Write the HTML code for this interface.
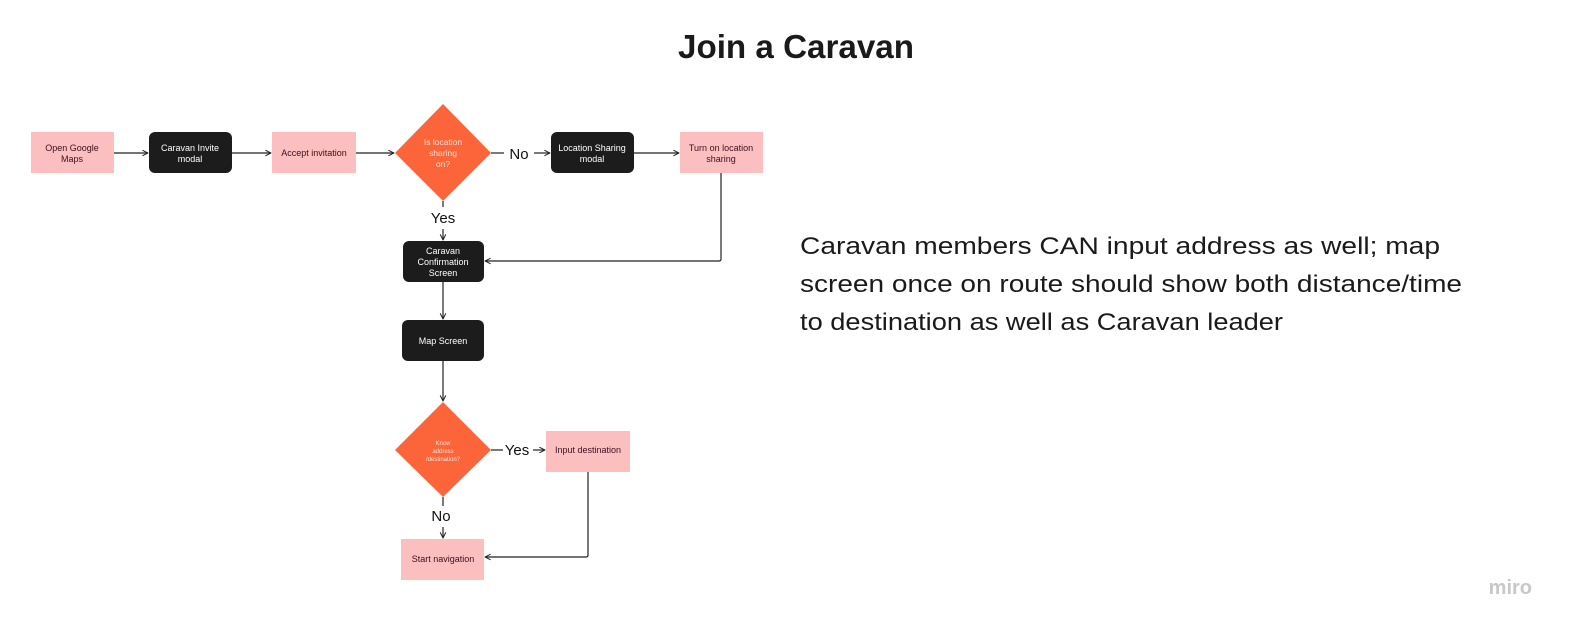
<!DOCTYPE html>
<html><head><meta charset="utf-8"><style>
html,body{margin:0;padding:0;background:#fff;width:1576px;height:634px;overflow:hidden}
svg{display:block}
</style></head><body>
<svg width="1576" height="634" viewBox="0 0 1576 634" xmlns="http://www.w3.org/2000/svg" font-family="Liberation Sans, Arial, sans-serif">
<defs>
<marker id="a" viewBox="0 0 10 10" refX="9" refY="5" markerWidth="7" markerHeight="7" orient="auto" markerUnits="userSpaceOnUse"><path d="M1 1 L9 5 L1 9" fill="none" stroke="#222" stroke-width="1.4"/></marker>
</defs>
<text x="796" y="58" text-anchor="middle" font-size="33" font-weight="bold" fill="#1a1a1a" textLength="236" lengthAdjust="spacingAndGlyphs">Join a Caravan</text>

<g font-size="24" fill="#1a1a1a">
<text x="800" y="254" textLength="640" lengthAdjust="spacingAndGlyphs">Caravan members CAN input address as well; map</text>
<text x="800" y="292" textLength="662" lengthAdjust="spacingAndGlyphs">screen once on route should show both distance/time</text>
<text x="800" y="330" textLength="483" lengthAdjust="spacingAndGlyphs">to destination as well as Caravan leader</text>
</g>
<text x="1532" y="594" text-anchor="end" font-size="20" fill="#c8c8c8" font-weight="bold">miro</text>

<g stroke="#222" stroke-width="1.2" fill="none">
<line x1="114" y1="153" x2="148" y2="153" marker-end="url(#a)"/>
<line x1="232" y1="153" x2="271" y2="153" marker-end="url(#a)"/>
<line x1="356" y1="153" x2="394" y2="153" marker-end="url(#a)"/>
<line x1="491" y1="153" x2="504" y2="153"/>
<line x1="534" y1="153" x2="550" y2="153" marker-end="url(#a)"/>
<line x1="634" y1="153" x2="679" y2="153" marker-end="url(#a)"/>
<path d="M721 173 V259 Q721 261 719 261 H485" marker-end="url(#a)"/>
<line x1="443" y1="201" x2="443" y2="207"/>
<line x1="443" y1="229" x2="443" y2="240" marker-end="url(#a)"/>
<line x1="443" y1="282" x2="443" y2="319" marker-end="url(#a)"/>
<line x1="443" y1="361" x2="443" y2="401" marker-end="url(#a)"/>
<line x1="491" y1="450" x2="503" y2="450"/>
<line x1="533" y1="450" x2="545" y2="450" marker-end="url(#a)"/>
<line x1="443" y1="497" x2="443" y2="506"/>
<line x1="443" y1="527" x2="443" y2="538" marker-end="url(#a)"/>
<path d="M588 472 V555 Q588 557 586 557 H485" marker-end="url(#a)"/>
</g>

<g font-size="15" fill="#111">
<text x="519" y="159" text-anchor="middle">No</text>
<text x="443" y="223" text-anchor="middle">Yes</text>
<text x="517" y="455" text-anchor="middle">Yes</text>
<text x="441" y="521" text-anchor="middle">No</text>
</g>

<g fill="#fbbfbf">
<rect x="31" y="132" width="83" height="41"/>
<rect x="272" y="132" width="84" height="41"/>
<rect x="680" y="132" width="83" height="41"/>
<rect x="546" y="431" width="84" height="41"/>
<rect x="401" y="539" width="83" height="41"/>
</g>
<g fill="#1c1c1c">
<rect x="149" y="132" width="83" height="41" rx="6"/>
<rect x="551" y="132" width="83" height="41" rx="6"/>
<rect x="403" y="241" width="81" height="41" rx="6"/>
<rect x="402" y="320" width="82" height="41" rx="6"/>
</g>
<g fill="#fb6539">
<polygon points="443,104 491,153 443,201 395,153"/>
<polygon points="443,402 491,450 443,497 395,450"/>
</g>

<g font-size="9" text-anchor="middle" fill="#3a1020">
<text x="72" y="151">Open Google</text><text x="72" y="162">Maps</text>
<text x="314" y="156">Accept invitation</text>
<text x="721" y="151">Turn on location</text><text x="721" y="162">sharing</text>
<text x="588" y="453">Input destination</text>
<text x="443" y="562">Start navigation</text>
</g>
<g font-size="9" text-anchor="middle" fill="#fff">
<text x="190" y="151">Caravan Invite</text><text x="190" y="162">modal</text>
<text x="592" y="151">Location Sharing</text><text x="592" y="162">modal</text>
<text x="443" y="254">Caravan</text><text x="443" y="265">Confirmation</text><text x="443" y="276">Screen</text>
<text x="443" y="344">Map Screen</text>
</g>
<g font-size="8.5" text-anchor="middle" fill="#ffe3d8">
<text x="443" y="145">Is location</text><text x="443" y="156">sharing</text><text x="443" y="167">on?</text>
</g>
<g font-size="6" text-anchor="middle" fill="#ffe3d8">
<text x="443" y="445">Know</text><text x="443" y="453">address</text><text x="443" y="461">/destination?</text>
</g>
</svg>
</body></html>
